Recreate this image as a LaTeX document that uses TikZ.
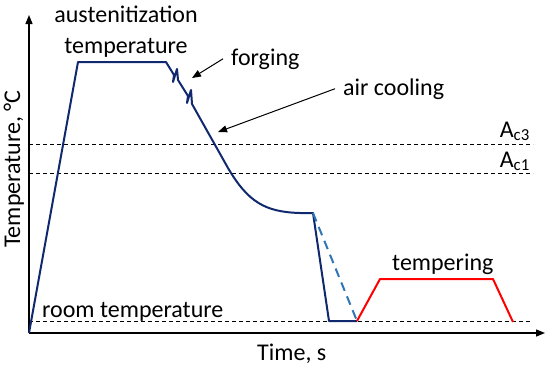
\documentclass[tikz,border=0pt]{standalone}
\usepackage{fontspec}
\setmainfont{Carlito}
\usepackage{tikz}
\usetikzlibrary{
	arrows.meta,
	positioning,
	calc
}
\definecolor{steelblue}{RGB}{16,40,110}
\definecolor{quenchblue}{RGB}{46,117,182}

\begin{document}
\begin{tikzpicture}[x=1pt, y=-1pt,
				lbl/.style={
					font=\fontsize{24}{31}\selectfont, inner sep=0pt
				},
				axis/.style={-{Triangle[length=9pt,width=7pt]}, line width=1.4pt},
				arrow/.style={-{Triangle[length=9pt,width=7pt]}, line width=1pt},
				level/.style={dash pattern=on 4pt off 3pt, line width=0.8pt},
				steel/.style={line width=2pt, steelblue, line join=round},
				quench/.style={line width=2pt, quenchblue, dash pattern=on 9pt off 6pt},
				temper/.style={line width=2pt, red, line join=round},
				]
				\useasboundingbox (0,0) rectangle (550,368);
				
				%axes
				\coordinate (origin) at (29,333);
				\coordinate (yend) at (29,15);
				\coordinate (xend) at (545,333);
				\draw[axis] (origin) -- (yend);
				\draw[axis] (origin) -- (xend);
				\node[lbl, rotate=90, anchor=base] (ylabel) at (20,169) {Temperature, °C};
				\node[lbl, anchor=base west] (xlabel) at (257,360) {Time, s};
				
				%levels
				\draw[level] (29,144) -- (533,144);
				\draw[level] (29,173) -- (533,173);
				\draw[level] (29,321) -- (530,321);
				\node[lbl, anchor=base east] (ac3) at (530,137) {A\textsubscript{c3}};
				\node[lbl, anchor=base east] (ac1) at (530,167) {A\textsubscript{c1}};
				\node[lbl, anchor=base west] (room) at (42,317) {room temperature};
				
				%heating, forging, cooling
				\draw[steel] (origin) -- (78,62) -- (166,62) -- (174,75) -- (173,82) -- (177,69) -- (178,80)
					-- (188,96) -- (187,103) -- (191,90) -- (192,104) -- (228,168)
					.. controls (248,202) and (265,212) .. (300,213) -- (313,213) -- (329,321) -- (357,321);
				\draw[quench] (313,213) -- (357,321);
				\node[lbl, align=center, anchor=base] (austen) at (126,53) {austenitization\\temperature};
				
				%tempering
				\draw[temper] (357,321) -- (380,279) -- (493,279) -- (513,322);
				\node[lbl, anchor=base west] (temper) at (392,270) {tempering};
				
				%labels with arrows
				\node[lbl, anchor=base west] (forging) at (231,65) {forging};
				\coordinate (forgetip) at (192,78);
				\draw[arrow] ([xshift=-8pt]forging.west) -- (forgetip);
				
				\node[lbl, anchor=base west] (air) at (343,95) {air cooling};
				\coordinate (airtip) at (218,132);
				\draw[arrow] ([xshift=-8pt]air.west) -- (airtip);
			\end{tikzpicture}
\end{document}
